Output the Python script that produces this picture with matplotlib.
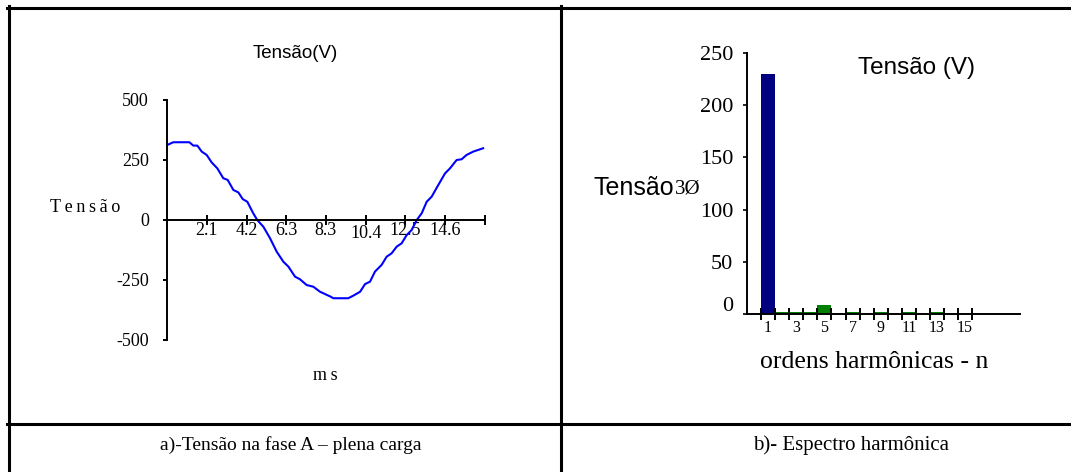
import numpy as np
import matplotlib
matplotlib.use("Agg")
import matplotlib.pyplot as plt
from matplotlib.lines import Line2D
import matplotlib.transforms as mtransforms

# forma de onda da tensão na fase A (ms, V)
t_ms = [0, 0.33, 1.17, 1.38, 1.59, 1.82, 2.08, 2.34, 2.64, 2.95, 3.18, 3.48, 3.74,
        3.97, 4.21, 4.52, 4.73, 5.05, 5.40, 5.75, 6.10, 6.36, 6.71, 6.97, 7.32,
        7.67, 8.02, 8.19, 8.37, 8.54, 8.72, 9.50, 9.77, 10.12, 10.38, 10.64, 10.90,
        11.25, 11.51, 11.77, 12.04, 12.30, 12.56, 12.82, 13.09, 13.35, 13.61, 13.87,
        14.22, 14.57, 14.83, 15.18, 15.44, 15.70, 16.05, 16.31, 16.57]
tensao_v = [312, 324, 324, 310, 310, 285, 271, 240, 215, 174, 167, 125, 115,
            87, 76, 28, 0, -28, -76, -132, -174, -194, -236, -247, -271,
            -278, -299, -305, -312, -318, -326, -326, -315, -299, -267, -257, -215,
            -187, -153, -139, -111, -97, -63, -42, 0, 28, 76, 97,
            146, 194, 215, 250, 253, 271, 285, 292, 299]
x_ticks_ms = [2.083, 4.167, 6.25, 8.333, 10.417, 12.5, 14.583, 16.667]
x_labels_ms = ["2.1", "4.2", "6.3", "8.3", "10.4", "12.5", "14.6", ""]
y_ticks_v = [-500, -250, 0, 250, 500]

# espectro harmônico
ordens = list(range(1, 16))
amplitudes = [230, 1.8, 1.8, 1.8, 9, 0, 1.8, 0, 1.8, 0, 1.8, 0, 1.8, 0, 0]
ordens_rotulo = [1, 3, 5, 7, 9, 11, 13, 15]
y_ticks_h = [0, 50, 100, 150, 200, 250]

W, H = 1071, 472
serif = "Liberation Serif"
sans = "Liberation Sans"


def fx(px):
    return px / W


def fy(py):
    return 1 - py / H


fig = plt.figure(figsize=(W / 100, H / 100), dpi=100)
fig.patch.set_facecolor("white")

# moldura da tabela
lw = 2.2
for xs, ys in [((7, W), (7.5, 7.5)), ((8.5, 8.5), (6, H)), ((560.5, 560.5), (6, H)),
               ((7, W), (423.5, 423.5))]:
    fig.add_artist(Line2D([fx(xs[0]), fx(xs[1])], [fy(ys[0]), fy(ys[1])],
                          color="black", lw=lw, transform=fig.transFigure))

# ---- a) tensão na fase A ----
ax1 = fig.add_axes([fx(167), fy(340), fx(485) - fx(167), fy(100) - fy(340)])
ax1.plot(t_ms, tensao_v, color="#0000FF", lw=1.5)
ax1.set_xlim(0, 16.667)
ax1.set_ylim(-500, 500)
ax1.spines["top"].set_visible(False)
ax1.spines["right"].set_visible(False)
ax1.spines["bottom"].set_position(("data", 0))
for s in ["left", "bottom"]:
    ax1.spines[s].set_linewidth(1.4)
ax1.set_xticks(x_ticks_ms)
ax1.set_xticklabels(x_labels_ms, fontfamily=serif, fontsize=13)
ax1.tick_params(axis="x", direction="inout", length=7, width=1.4, pad=-2)
ax1.set_yticks(y_ticks_v)
ax1.set_yticklabels([str(v) for v in y_ticks_v], fontfamily=serif, fontsize=13)
ax1.tick_params(axis="y", direction="out", length=3, width=1.4, pad=10)
for lab in ax1.get_xticklabels():
    if lab.get_text() == "10.4":
        lab.set_transform(lab.get_transform() +
                          mtransforms.ScaledTranslation(0, -3 / 100, fig.dpi_scale_trans))

fig.text(fx(295), fy(53), "Tensão(V)", family=sans, fontsize=13.5, ha="center", va="center")
fig.text(fx(50), fy(207), "T e n s ã o".replace(" ", "\u2009"), family=serif, fontsize=13,
         ha="left", va="center")
fig.text(fx(325), fy(375), "m\u2009s", family=serif, fontsize=13, ha="center", va="center")

# ---- b) espectro harmônico ----
ax2 = fig.add_axes([fx(747), fy(314), fx(1020) - fx(747), fy(53) - fy(314)])
cores = ["#000080"] + ["#008000"] * (len(ordens) - 1)
ax2.bar(ordens, amplitudes, width=1.0, color=cores, edgecolor="none", zorder=1)
ax2.set_xlim(-0.5, 18.9)
ax2.set_ylim(0, 250)
ax2.spines["top"].set_visible(False)
ax2.spines["right"].set_visible(False)
for s in ["left", "bottom"]:
    ax2.spines[s].set_linewidth(1.4)
    ax2.spines[s].set_zorder(3)
ax2.set_xticks(np.arange(0.5, 16, 1))
ax2.set_xticklabels([])
ax2.tick_params(axis="x", which="major", direction="inout", length=9, width=1.4)
ax2.set_xticks(ordens_rotulo, minor=True)
ax2.set_xticklabels([str(o) for o in ordens_rotulo], minor=True, fontfamily=serif, fontsize=11.5)
ax2.tick_params(axis="x", which="minor", length=0, pad=4)
ax2.set_yticks(y_ticks_h)
ax2.set_yticklabels([str(v) for v in y_ticks_h], fontfamily=serif, fontsize=16)
ax2.tick_params(axis="y", direction="out", length=3, width=1.2, pad=7)
for lab in ax2.get_yticklabels():
    if lab.get_text() == "0":
        lab.set_transform(lab.get_transform() +
                          mtransforms.ScaledTranslation(0, 10 / 100, fig.dpi_scale_trans))

fig.text(fx(916), fy(68), "Tensão (V)", family=sans, fontsize=17.5, ha="center", va="center")
fig.text(fx(593), fy(188), "Tensão", family=sans, fontsize=18, ha="left", va="center")
fig.text(fx(675), fy(189), "3Ø", family=serif, fontsize=15, ha="left", va="center")
fig.text(fx(874), fy(362), "ordens harmônicas - n", family=serif, fontsize=18.5,
         ha="center", va="center")

# legendas das figuras
fig.text(fx(291), fy(445), "a)-Tensão na fase A – plena carga", family=serif, fontsize=14,
         ha="center", va="center")
fig.text(fx(851), fy(445), "b)- Espectro harmônica", family=serif, fontsize=15,
         ha="center", va="center")

fig.savefig("out.png", dpi=100, facecolor="white")
